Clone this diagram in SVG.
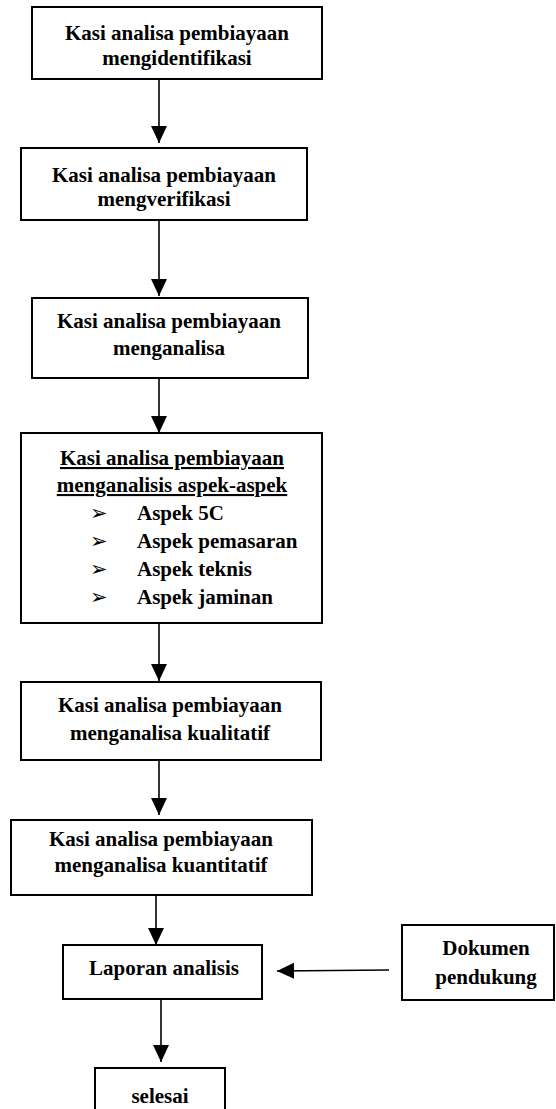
<svg xmlns="http://www.w3.org/2000/svg" width="556" height="1109" viewBox="0 0 556 1109">
  <style>
    .box { fill: #fff; stroke: #000; stroke-width: 2; }
    .lbl { font-family: "Liberation Serif", "Times New Roman", "DejaVu Serif", serif; font-weight: bold; font-size: 21px; fill: #000; }
    .mid { text-anchor: middle; }
    .ul { text-decoration: underline; }
    .bul { font-family: "DejaVu Sans", sans-serif; font-size: 21px; fill: #000; }
    .conn { stroke: #000; stroke-width: 1.6; fill: none; }
  </style>
  <defs>
    <marker id="head" markerUnits="userSpaceOnUse" markerWidth="18" markerHeight="18" viewBox="0 0 18 18" refX="17" refY="8" orient="auto">
      <path d="M0,0 L17,8 L0,16 Z" fill="#000"/>
    </marker>
  </defs>
  <rect width="556" height="1109" fill="#fff"/>

  <g id="connectors">
    <line class="conn" x1="159" y1="79" x2="159" y2="143" marker-end="url(#head)"/>
    <line class="conn" x1="159" y1="220" x2="159" y2="296" marker-end="url(#head)"/>
    <line class="conn" x1="159" y1="378" x2="159" y2="433" marker-end="url(#head)"/>
    <line class="conn" x1="159" y1="623" x2="159" y2="681" marker-end="url(#head)"/>
    <line class="conn" x1="159" y1="760" x2="159" y2="815" marker-end="url(#head)"/>
    <line class="conn" x1="156" y1="895" x2="156" y2="945" marker-end="url(#head)"/>
    <line class="conn" x1="161" y1="999" x2="161" y2="1062" marker-end="url(#head)"/>
    <line class="conn" x1="389" y1="970" x2="277" y2="971" marker-end="url(#head)"/>
  </g>

  <g id="identifikasi">
    <rect class="box" x="32" y="7" width="290" height="72"/>
    <text class="lbl mid" x="177" y="40">Kasi analisa pembiayaan</text>
    <text class="lbl mid" x="177" y="65">mengidentifikasi</text>
  </g>

  <g id="verifikasi">
    <rect class="box" x="21" y="148" width="286" height="72"/>
    <text class="lbl mid" x="164" y="182">Kasi analisa pembiayaan</text>
    <text class="lbl mid" x="164" y="206">mengverifikasi</text>
  </g>

  <g id="analisa">
    <rect class="box" x="32" y="298" width="276" height="80"/>
    <text class="lbl mid" x="169" y="328">Kasi analisa pembiayaan</text>
    <text class="lbl mid" x="169" y="355">menganalisa</text>
  </g>

  <g id="aspek">
    <rect class="box" x="21" y="433" width="301" height="190"/>
    <text class="lbl mid ul" x="172" y="465">Kasi analisa pembiayaan</text>
    <text class="lbl mid ul" x="172" y="492">menganalisis aspek-aspek</text>
    <text class="bul" x="90" y="520">➢</text>
    <text class="lbl" x="137" y="520">Aspek 5C</text>
    <text class="bul" x="90" y="548">➢</text>
    <text class="lbl" x="137" y="548">Aspek pemasaran</text>
    <text class="bul" x="90" y="576">➢</text>
    <text class="lbl" x="137" y="576">Aspek teknis</text>
    <text class="bul" x="90" y="604">➢</text>
    <text class="lbl" x="137" y="604">Aspek jaminan</text>
  </g>

  <g id="kualitatif">
    <rect class="box" x="21" y="682" width="300" height="78"/>
    <text class="lbl mid" x="170" y="712">Kasi analisa pembiayaan</text>
    <text class="lbl mid" x="170" y="740">menganalisa kualitatif</text>
  </g>

  <g id="kuantitatif">
    <rect class="box" x="11" y="820" width="301" height="75"/>
    <text class="lbl mid" x="161" y="846">Kasi analisa pembiayaan</text>
    <text class="lbl mid" x="161" y="872">menganalisa kuantitatif</text>
  </g>

  <g id="laporan">
    <rect class="box" x="63" y="945" width="199" height="54"/>
    <text class="lbl mid" x="164" y="975">Laporan analisis</text>
  </g>

  <g id="dokumen">
    <rect class="box" x="402" y="925" width="152" height="75"/>
    <text class="lbl mid" x="486" y="955">Dokumen</text>
    <text class="lbl mid" x="486" y="984">pendukung</text>
  </g>

  <g id="selesai">
    <rect class="box" x="95" y="1068" width="130" height="50"/>
    <text class="lbl mid" x="160" y="1103">selesai</text>
  </g>
</svg>
